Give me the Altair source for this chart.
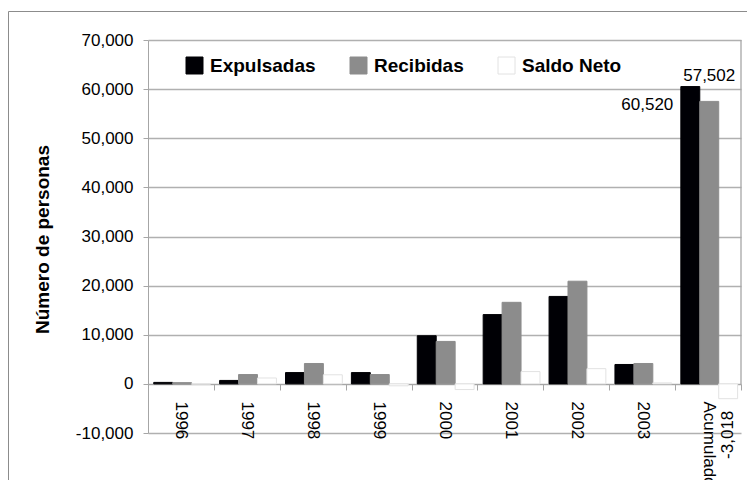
import altair as alt
import pandas as pd

categorias = ["1996", "1997", "1998", "1999", "2000", "2001", "2002", "2003", "Acumulado"]
series = ["Expulsadas", "Recibidas", "Saldo Neto"]
expulsadas = [300, 700, 2300, 2300, 9800, 14100, 17800, 3950, 60520]
recibidas = [250, 1900, 4150, 1900, 8640, 16600, 20900, 4150, 57502]
saldo_neto = [-50, 1200, 1850, -400, -1160, 2500, 3100, 200, -3018]
y_ticks = [-10000, 0, 10000, 20000, 30000, 40000, 50000, 60000, 70000]

rows = []
for i, c in enumerate(categorias):
    rows.append({"categoria": c, "serie": "Expulsadas", "valor": expulsadas[i]})
    rows.append({"categoria": c, "serie": "Recibidas", "valor": recibidas[i]})
    rows.append({"categoria": c, "serie": "Saldo Neto", "valor": saldo_neto[i]})
df = pd.DataFrame(rows)

FONT = "Liberation Sans, Arial, sans-serif"
W, H = 593, 393
NUM = "replace(format(%s, ',.0f'), '\u2212', '-')"

x_scale = alt.Scale(paddingInner=0, paddingOuter=0)
xo_scale = alt.Scale(paddingInner=0, paddingOuter=0.24, align=0.63)

x_enc = alt.X("categoria:N", sort=categorias, title=None, scale=x_scale,
              axis=alt.Axis(labelAngle=90, labelAlign="left", labelBaseline="middle",
                            offset=-49, tickBand="extent", tickSize=6, labelPadding=11,
                            domainColor="#a6a6a6", tickColor="#a6a6a6",
                            labelFont=FONT, labelFontSize=17, labelColor="#000000"))
xo_enc = alt.XOffset("serie:N", sort=series, scale=xo_scale)
y_enc = alt.Y("valor:Q", title="Número de personas",
              scale=alt.Scale(domain=[-10000, 70000], nice=False, zero=False),
              axis=alt.Axis(values=y_ticks, labelExpr=NUM % "datum.value",
                            tickSize=5, labelPadding=10,
                            domainColor="#a6a6a6", tickColor="#a6a6a6",
                            gridColor="#b0b0b0", gridWidth=1.3,
                            labelFont=FONT, labelFontSize=17, labelColor="#000000",
                            titleFont=FONT, titleFontSize=19, titleFontWeight="bold",
                            titleColor="#000000", titleX=-106, titleY=199,
                            titleAngle=-90, titleAlign="center", titleBaseline="middle"))

color_scale = alt.Scale(domain=series, range=["#000005", "#8c8c8c", "#ffffff"])
stroke_scale = alt.Scale(domain=series, range=["#000005", "#8c8c8c", "#e2e2e2"])
legend = alt.Legend(title=None, orient="none", legendX=37, legendY=16, direction="horizontal",
                    symbolType="square", symbolSize=289, symbolStrokeWidth=1,
                    labelFont=FONT, labelFontSize=19, labelFontWeight="bold",
                    labelColor="#000000", columnPadding=32, labelOffset=6, padding=0)

bars = alt.Chart(df).mark_bar(strokeWidth=1).encode(
    x=x_enc, xOffset=xo_enc, y=y_enc,
    color=alt.Color("serie:N", scale=color_scale, legend=legend, sort=series),
    stroke=alt.Stroke("serie:N", scale=stroke_scale, legend=legend, sort=series),
)

acum = df[df["categoria"] == "Acumulado"]


def label(serie, **kw):
    return alt.Chart(acum[acum["serie"] == serie]).transform_calculate(
        lbl=NUM % "datum.valor"
    ).mark_text(baseline="middle", font=FONT, fontSize=17, color="#000000", **kw).encode(
        x=alt.X("categoria:N", sort=categorias, scale=x_scale),
        xOffset=alt.XOffset("serie:N", sort=series, scale=xo_scale),
        y="valor:Q", text="lbl:N")


lab_exp = label("Expulsadas", align="right", dx=-17, dy=18)
lab_rec = label("Recibidas", align="center", dy=-25)
lab_sal = label("Saldo Neto", align="right", angle=270, dx=-12)

one = pd.DataFrame({"a": [0]})
right_border = alt.Chart(one).mark_rule(color="#a6a6a6", strokeWidth=1.3).encode(
    x=alt.value(W), y=alt.datum(70000), y2=alt.datum(0))
outer = alt.Chart(one).mark_rect(fillOpacity=0, stroke="#8c8c8c", strokeWidth=1).encode(
    x=alt.value(-139.5), x2=alt.value(W + 200), y=alt.value(-28.5), y2=alt.value(H + 200))

chart = alt.layer(outer, bars, right_border, lab_exp, lab_rec, lab_sal).properties(
    width=W, height=H,
    autosize=alt.AutoSizeParams(type="none"),
    padding={"left": 140, "top": 32, "right": 6, "bottom": 47},
).configure_view(stroke=None).configure_axis(grid=False).configure_axisY(grid=True)

chart.save("out.html", embed_options={"renderer": "svg", "actions": False})
